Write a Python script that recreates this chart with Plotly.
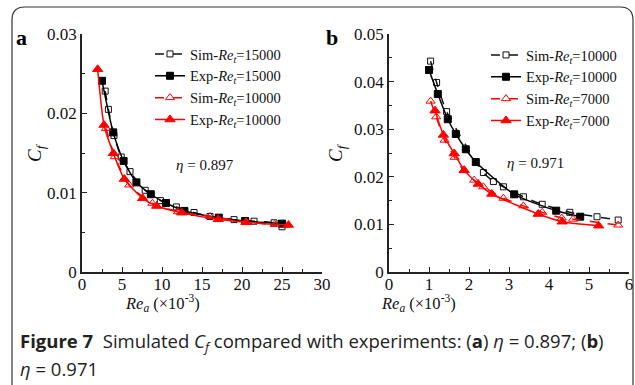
import plotly.graph_objects as go

# ---------------- data ----------------
# Panel a (eta = 0.897)
a_sim15_x = [2.9, 3.3, 4.0, 4.9, 6.0, 7.9, 9.8, 11.8, 14.0, 16.0, 19.0, 21.5, 24.0, 25.0]
a_sim15_y = [0.0228, 0.0205, 0.0172, 0.0145, 0.01265, 0.0103, 0.0090, 0.0082, 0.0075, 0.0070, 0.0066, 0.0064, 0.0062, 0.0057]
a_exp15_x = [2.5, 3.9, 5.2, 6.8, 8.6, 10.5, 12.8, 17.1, 20.4, 25.0]
a_exp15_y = [0.0241, 0.0176, 0.0140, 0.0113, 0.0098, 0.0087, 0.0077, 0.00685, 0.00643, 0.0061]
a_sim10_x = [3.0, 4.1, 5.9, 8.8, 12.0, 16.0, 20.5, 24.1]
a_sim10_y = [0.0181, 0.01453, 0.01097, 0.00866, 0.0076, 0.0070, 0.0063, 0.0060]
a_exp10_x = [1.96, 2.75, 3.92, 5.29, 7.58, 9.33, 12.46, 17.04, 20.5, 25.8]
a_exp10_y = [0.02555, 0.01853, 0.01496, 0.01172, 0.00929, 0.00832, 0.00748, 0.00664, 0.00626, 0.00592]

# Panel b (eta = 0.971)
b_sim10_x = [1.04, 1.19, 1.44, 2.36, 2.61, 2.86, 3.36, 3.83, 4.52, 5.2, 5.73]
b_sim10_y = [0.0443, 0.0398, 0.0337, 0.0209, 0.0190, 0.0179, 0.0158, 0.01422, 0.01254, 0.0116, 0.01092]
b_exp10_x = [1.0, 1.22, 1.47, 1.67, 1.92, 2.17, 3.13, 4.18, 4.78]
b_exp10_y = [0.04244, 0.0374, 0.0321, 0.0290, 0.02578, 0.0231, 0.01632, 0.01288, 0.01162]
b_sim7_x = [1.04, 1.18, 1.39, 1.64, 1.87, 2.13, 2.36, 2.86, 3.36, 3.83, 4.32, 4.6, 5.73]
b_sim7_y = [0.0359, 0.0326, 0.0277, 0.0241, 0.0213, 0.0193, 0.0179, 0.0155, 0.0139, 0.01254, 0.01134, 0.0111, 0.00987]
b_exp7_x = [1.15, 1.36, 1.63, 1.88, 2.23, 2.57, 3.73, 4.33, 5.24]
b_exp7_y = [0.0339, 0.0288, 0.0249, 0.0214, 0.0185, 0.01639, 0.01218, 0.01057, 0.00973]

legend_a = ["Sim-<i>Re<sub>t</sub></i>=15000", "Exp-<i>Re<sub>t</sub></i>=15000",
            "Sim-<i>Re<sub>t</sub></i>=10000", "Exp-<i>Re<sub>t</sub></i>=10000"]
legend_b = ["Sim-<i>Re<sub>t</sub></i>=10000", "Exp-<i>Re<sub>t</sub></i>=10000",
            "Sim-<i>Re<sub>t</sub></i>=7000", "Exp-<i>Re<sub>t</sub></i>=7000"]

W, H = 635, 385
SERIF = "Liberation Serif"
SANS = "Open Sans"
RED = "#ff0000"

fig = go.Figure()

def add_series(x, y, name, color, dash, symbol, size, xa, ya, leg):
    fig.add_trace(go.Scatter(
        x=x, y=y, name=name, mode="lines+markers",
        line=dict(color=color, width=1.5, dash=dash, shape="spline", smoothing=0.6),
        marker=dict(symbol=symbol, size=size, color=color, line=dict(color=color, width=1)),
        xaxis=xa, yaxis=ya, legend=leg))

add_series(a_sim15_x, a_sim15_y, legend_a[0], "#111111", "dash", "square-open", 6, "x", "y", "legend")
add_series(a_exp15_x, a_exp15_y, legend_a[1], "#000000", "solid", "square", 7, "x", "y", "legend")
add_series(a_sim10_x, a_sim10_y, legend_a[2], RED, "dash", "triangle-up-open", 8, "x", "y", "legend")
add_series(a_exp10_x, a_exp10_y, legend_a[3], RED, "solid", "triangle-up", 9, "x", "y", "legend")

add_series(b_sim10_x, b_sim10_y, legend_b[0], "#111111", "dash", "square-open", 6, "x2", "y2", "legend2")
add_series(b_exp10_x, b_exp10_y, legend_b[1], "#000000", "solid", "square", 7, "x2", "y2", "legend2")
add_series(b_sim7_x, b_sim7_y, legend_b[2], RED, "dash", "triangle-up-open", 8, "x2", "y2", "legend2")
add_series(b_exp7_x, b_exp7_y, legend_b[3], RED, "solid", "triangle-up", 9, "x2", "y2", "legend2")

def px_x(p):
    return p / W

def px_y(p):
    return 1 - p / H

ydom = [px_y(272), px_y(34)]
axis_common = dict(showline=True, linecolor="#222222", linewidth=1.5, ticks="inside",
                   ticklen=5, tickwidth=1.2, tickcolor="#222222", showgrid=False,
                   zeroline=False, mirror=False, automargin=False,
                   tickfont=dict(family=SERIF, size=17, color="#111111"))
xminor = dict(ticks="inside", ticklen=3, tickcolor="#222222")

legend_style = dict(xanchor="left", yanchor="top", bgcolor="rgba(0,0,0,0)",
                    font=dict(family=SERIF, size=14.5, color="#111111"),
                    tracegroupgap=0, itemwidth=30)

fig.update_layout(
    width=W, height=H,
    margin=dict(l=0, r=0, t=0, b=0, autoexpand=False),
    paper_bgcolor="white", plot_bgcolor="white",
    showlegend=True,
    xaxis=dict(domain=[px_x(82), px_x(322)], range=[0, 30], dtick=5, anchor="y",
               ticklabelstandoff=-4, minor=dict(dtick=2.5, **xminor), **axis_common),
    yaxis=dict(domain=ydom, range=[0, 0.03], dtick=0.01, anchor="x",
               minor=dict(dtick=0.005, **xminor), **axis_common),
    xaxis2=dict(domain=[px_x(389), px_x(629)], range=[0, 6], dtick=1, anchor="y2",
                ticklabelstandoff=-4, minor=dict(dtick=0.5, **xminor), **axis_common),
    yaxis2=dict(domain=ydom, range=[0, 0.05], dtick=0.01, anchor="x2",
                minor=dict(dtick=0.005, **xminor), **axis_common),
    legend=dict(x=px_x(150), y=px_y(38), **legend_style),
    legend2=dict(x=px_x(486), y=px_y(39), **legend_style),
)

ann = []

def add_text(x, y, text, font, xref="paper", yref="paper", xanchor="center", yanchor="middle", angle=0):
    ann.append(dict(x=x, y=y, xref=xref, yref=yref, text=text, showarrow=False,
                    xanchor=xanchor, yanchor=yanchor, textangle=angle, font=font))

# panel letters
add_text(px_x(14), px_y(37), "<b>a</b>", dict(family=SERIF, size=22, color="#000000"), xanchor="left")
add_text(px_x(324), px_y(37), "<b>b</b>", dict(family=SERIF, size=22, color="#000000"), xanchor="left")
# eta annotations
add_text(15.4, 0.0135, "<i>η</i> = 0.897", dict(family=SERIF, size=15, color="#111111"), xref="x", yref="y")
add_text(3.65, 0.0229, "<i>η</i> = 0.971", dict(family=SERIF, size=15, color="#111111"), xref="x2", yref="y2")
# axis titles
for xc in (36, 337):
    add_text(px_x(xc), px_y(153), "<i>C<sub>f</sub></i>", dict(family=SERIF, size=19, color="#111111"), angle=-90)
for xc in (162, 418):
    add_text(px_x(xc), px_y(303), "<i>Re<sub>a</sub></i> (×10<sup>-3</sup>)",
             dict(family=SERIF, size=16.5, color="#111111"))
# caption
add_text(px_x(18), px_y(342),
         "<b>Figure 7</b>  Simulated <i>C<sub>f</sub></i> compared with experiments: "
         "(<b>a</b>) <i>η</i> = 0.897; (<b>b</b>)",
         dict(family=SANS, size=18.5, color="#222222"), xanchor="left")
add_text(px_x(18), px_y(368), "<i>η</i> = 0.971", dict(family=SANS, size=18.5, color="#222222"), xanchor="left")
fig.update_layout(annotations=ann)

# rounded frame
x0, x1 = px_x(12), px_x(633)
yt, yb = px_y(7), px_y(396)
rx, ry = 13 / W, 13 / H
path = (f"M {x0},{yb} L {x0},{yt - ry} Q {x0},{yt} {x0 + rx},{yt} "
        f"L {x1 - rx},{yt} Q {x1},{yt} {x1},{yt - ry} L {x1},{yb}")
fig.add_shape(type="path", path=path, xref="paper", yref="paper",
              line=dict(color="#333333", width=1.2))

fig.write_html("out.html", config={"displayModeBar": False},
               post_script="document.body.style.margin='0';")
